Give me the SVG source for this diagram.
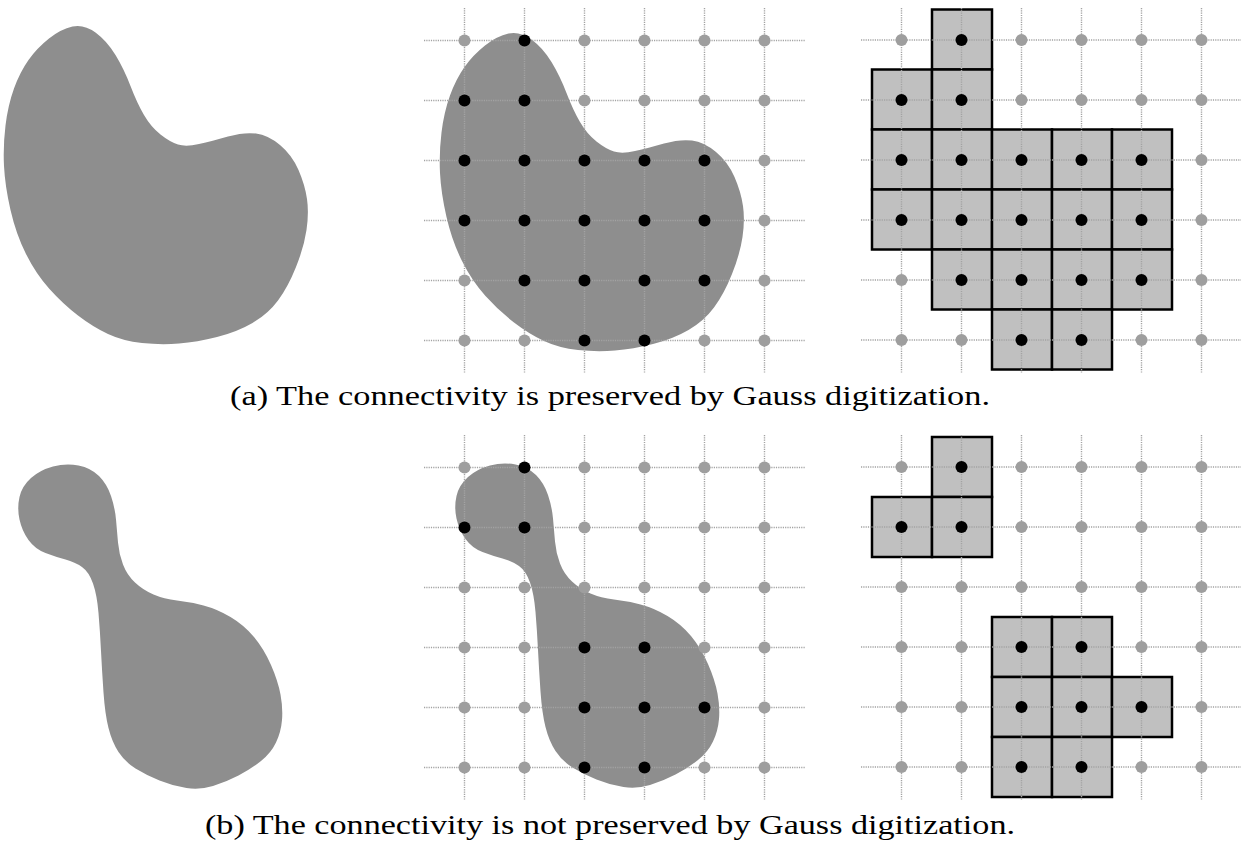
<svg xmlns="http://www.w3.org/2000/svg" width="1241" height="843" viewBox="0 0 1241 843">
<style>
.blob{fill:#8e8e8e;stroke:none}
.grid{fill:none;stroke:#a3a3a3;stroke-width:1.4;stroke-dasharray:1.2 1.1}
.g{fill:#9e9e9e}
.b{fill:#000}
.sq{fill:#c0c0c0;stroke:#000;stroke-width:2.5}
.cap{font-size:27px;fill:#000}
</style>
<defs>
<path id="blobA" d="M508.5 33.5 Q520 31 531.5 39.5 Q543 48 551.5 62 Q560 76 566.5 93 Q573 110 580 122 Q587 134 596.5 141.5 Q606 149 614 151.5 Q622 154 635 151 Q648 148 664 143.5 Q680 139 692 140.5 Q704 142 716 152 Q728 162 734.5 177 Q741 192 743 206 Q745 220 742.5 237 Q740 254 732 274 Q724 294 714 307.5 Q704 321 688.5 330 Q673 339 653 344 Q633 349 615 350.5 Q597 352 578 350 Q559 348 544 341 Q529 334 514 322.5 Q499 311 485.5 296 Q472 281 462 261 Q452 241 446.5 217 Q441 193 440 173 Q439 153 441.5 132.5 Q444 112 450 95.5 Q456 79 464.5 67 Q473 55 485 45.5 Q497 36 508.5 33.5 Z"/>
<path id="blobB" d="M490 465.5 Q503 462 515.5 464.5 Q528 467 536 475 Q544 483 548 495 Q552 507 553 518.5 Q554 530 555 541.5 Q556 553 560 563.5 Q564 574 572 581.5 Q580 589 590.5 593.5 Q601 598 614 599.5 Q627 601 640.5 604.5 Q654 608 667.5 616 Q681 624 691 636 Q701 648 708 664 Q715 680 717.5 693.5 Q720 707 719 719 Q718 731 713 741.5 Q708 752 698 760 Q688 768 675.5 774.5 Q663 781 650 785 Q637 789 623.5 787 Q610 785 596.5 779.5 Q583 774 572.5 767.5 Q562 761 555.5 751 Q549 741 545.5 727 Q542 713 540.5 691.5 Q539 670 538 650 Q537 630 535.5 612 Q534 594 530 582.5 Q526 571 519 566 Q512 561 502.5 558.5 Q493 556 482.5 552 Q472 548 465.5 539 Q459 530 456.5 518.5 Q454 507 456.5 496 Q459 485 468 477 Q477 469 490 465.5 Z"/>
</defs>

<g id="shape-a">
<use href="#blobA" class="blob" transform="translate(-436,-7)"/>
</g>

<g id="sampled-a">
<use href="#blobA" class="blob"/>
<path class="grid" d="M424 40.5H805M424 100.5H805M424 160.5H805M424 220.5H805M424 280.5H805M424 340.5H805M464.5 8V373M524.5 8V373M584.5 8V373M644.5 8V373M704.5 8V373M764.5 8V373"/>
<g class="g">
<circle cx="464.5" cy="40.5" r="6"/><circle cx="584.5" cy="40.5" r="6"/><circle cx="644.5" cy="40.5" r="6"/><circle cx="704.5" cy="40.5" r="6"/><circle cx="764.5" cy="40.5" r="6"/>
<circle cx="584.5" cy="100.5" r="6"/><circle cx="644.5" cy="100.5" r="6"/><circle cx="704.5" cy="100.5" r="6"/><circle cx="764.5" cy="100.5" r="6"/>
<circle cx="764.5" cy="160.5" r="6"/><circle cx="764.5" cy="220.5" r="6"/>
<circle cx="464.5" cy="280.5" r="6"/><circle cx="764.5" cy="280.5" r="6"/>
<circle cx="464.5" cy="340.5" r="6"/><circle cx="524.5" cy="340.5" r="6"/><circle cx="704.5" cy="340.5" r="6"/><circle cx="764.5" cy="340.5" r="6"/>
</g>
<g class="b">
<circle cx="524.5" cy="40.5" r="6"/>
<circle cx="464.5" cy="100.5" r="6"/><circle cx="524.5" cy="100.5" r="6"/>
<circle cx="464.5" cy="160.5" r="6"/><circle cx="524.5" cy="160.5" r="6"/><circle cx="584.5" cy="160.5" r="6"/><circle cx="644.5" cy="160.5" r="6"/><circle cx="704.5" cy="160.5" r="6"/>
<circle cx="464.5" cy="220.5" r="6"/><circle cx="524.5" cy="220.5" r="6"/><circle cx="584.5" cy="220.5" r="6"/><circle cx="644.5" cy="220.5" r="6"/><circle cx="704.5" cy="220.5" r="6"/>
<circle cx="524.5" cy="280.5" r="6"/><circle cx="584.5" cy="280.5" r="6"/><circle cx="644.5" cy="280.5" r="6"/><circle cx="704.5" cy="280.5" r="6"/>
<circle cx="584.5" cy="340.5" r="6"/><circle cx="644.5" cy="340.5" r="6"/>
</g>
</g>

<g id="digitized-a">
<g class="sq">
<rect x="932" y="9.5" width="60" height="60"/>
<rect x="872" y="69.5" width="60" height="60"/><rect x="932" y="69.5" width="60" height="60"/>
<rect x="872" y="129.5" width="60" height="60"/><rect x="932" y="129.5" width="60" height="60"/><rect x="992" y="129.5" width="60" height="60"/><rect x="1052" y="129.5" width="60" height="60"/><rect x="1112" y="129.5" width="60" height="60"/>
<rect x="872" y="189.5" width="60" height="60"/><rect x="932" y="189.5" width="60" height="60"/><rect x="992" y="189.5" width="60" height="60"/><rect x="1052" y="189.5" width="60" height="60"/><rect x="1112" y="189.5" width="60" height="60"/>
<rect x="932" y="249.5" width="60" height="60"/><rect x="992" y="249.5" width="60" height="60"/><rect x="1052" y="249.5" width="60" height="60"/><rect x="1112" y="249.5" width="60" height="60"/>
<rect x="992" y="309.5" width="60" height="60"/><rect x="1052" y="309.5" width="60" height="60"/>
</g>
<path class="grid" d="M861 40H1241M861 100H1241M861 160H1241M861 220H1241M861 280H1241M861 340H1241M901.5 8V373M961.5 8V373M1021.5 8V373M1081.5 8V373M1141.5 8V373M1201.5 8V373"/>
<g class="g">
<circle cx="901.5" cy="40" r="6"/><circle cx="1021.5" cy="40" r="6"/><circle cx="1081.5" cy="40" r="6"/><circle cx="1141.5" cy="40" r="6"/><circle cx="1201.5" cy="40" r="6"/>
<circle cx="1021.5" cy="100" r="6"/><circle cx="1081.5" cy="100" r="6"/><circle cx="1141.5" cy="100" r="6"/><circle cx="1201.5" cy="100" r="6"/>
<circle cx="1201.5" cy="160" r="6"/><circle cx="1201.5" cy="220" r="6"/>
<circle cx="901.5" cy="280" r="6"/><circle cx="1201.5" cy="280" r="6"/>
<circle cx="901.5" cy="340" r="6"/><circle cx="961.5" cy="340" r="6"/><circle cx="1141.5" cy="340" r="6"/><circle cx="1201.5" cy="340" r="6"/>
</g>
<g class="b">
<circle cx="961.5" cy="40" r="6"/>
<circle cx="901.5" cy="100" r="6"/><circle cx="961.5" cy="100" r="6"/>
<circle cx="901.5" cy="160" r="6"/><circle cx="961.5" cy="160" r="6"/><circle cx="1021.5" cy="160" r="6"/><circle cx="1081.5" cy="160" r="6"/><circle cx="1141.5" cy="160" r="6"/>
<circle cx="901.5" cy="220" r="6"/><circle cx="961.5" cy="220" r="6"/><circle cx="1021.5" cy="220" r="6"/><circle cx="1081.5" cy="220" r="6"/><circle cx="1141.5" cy="220" r="6"/>
<circle cx="961.5" cy="280" r="6"/><circle cx="1021.5" cy="280" r="6"/><circle cx="1081.5" cy="280" r="6"/><circle cx="1141.5" cy="280" r="6"/>
<circle cx="1021.5" cy="340" r="6"/><circle cx="1081.5" cy="340" r="6"/>
</g>
</g>

<text id="caption-a" class="cap" font-family="'Liberation Serif', 'DejaVu Serif', serif" x="610" y="405" text-anchor="middle" textLength="760" lengthAdjust="spacingAndGlyphs">(a) The connectivity is preserved by Gauss digitization.</text>

<g id="shape-b">
<use href="#blobB" class="blob" transform="translate(-437,1)"/>
</g>

<g id="sampled-b">
<use href="#blobB" class="blob"/>
<path class="grid" d="M424 467.5H805M424 527.5H805M424 587.5H805M424 647.5H805M424 707.5H805M424 767.5H805M464.5 435V800M524.5 435V800M584.5 435V800M644.5 435V800M704.5 435V800M764.5 435V800"/>
<g class="g">
<circle cx="464.5" cy="467.5" r="6"/><circle cx="584.5" cy="467.5" r="6"/><circle cx="644.5" cy="467.5" r="6"/><circle cx="704.5" cy="467.5" r="6"/><circle cx="764.5" cy="467.5" r="6"/>
<circle cx="584.5" cy="527.5" r="6"/><circle cx="644.5" cy="527.5" r="6"/><circle cx="704.5" cy="527.5" r="6"/><circle cx="764.5" cy="527.5" r="6"/>
<circle cx="464.5" cy="587.5" r="6"/><circle cx="524.5" cy="587.5" r="6"/><circle cx="584.5" cy="587.5" r="6"/><circle cx="644.5" cy="587.5" r="6"/><circle cx="704.5" cy="587.5" r="6"/><circle cx="764.5" cy="587.5" r="6"/>
<circle cx="464.5" cy="647.5" r="6"/><circle cx="524.5" cy="647.5" r="6"/><circle cx="704.5" cy="647.5" r="6"/><circle cx="764.5" cy="647.5" r="6"/>
<circle cx="464.5" cy="707.5" r="6"/><circle cx="524.5" cy="707.5" r="6"/><circle cx="764.5" cy="707.5" r="6"/>
<circle cx="464.5" cy="767.5" r="6"/><circle cx="524.5" cy="767.5" r="6"/><circle cx="704.5" cy="767.5" r="6"/><circle cx="764.5" cy="767.5" r="6"/>
</g>
<g class="b">
<circle cx="524.5" cy="467.5" r="6"/>
<circle cx="464.5" cy="527.5" r="6"/><circle cx="524.5" cy="527.5" r="6"/>
<circle cx="584.5" cy="647.5" r="6"/><circle cx="644.5" cy="647.5" r="6"/>
<circle cx="584.5" cy="707.5" r="6"/><circle cx="644.5" cy="707.5" r="6"/><circle cx="704.5" cy="707.5" r="6"/>
<circle cx="584.5" cy="767.5" r="6"/><circle cx="644.5" cy="767.5" r="6"/>
</g>
</g>

<g id="digitized-b">
<g class="sq">
<rect x="932" y="437" width="60" height="60"/>
<rect x="872" y="497" width="60" height="60"/><rect x="932" y="497" width="60" height="60"/>
<rect x="992" y="617" width="60" height="60"/><rect x="1052" y="617" width="60" height="60"/>
<rect x="992" y="677" width="60" height="60"/><rect x="1052" y="677" width="60" height="60"/><rect x="1112" y="677" width="60" height="60"/>
<rect x="992" y="737" width="60" height="60"/><rect x="1052" y="737" width="60" height="60"/>
</g>
<path class="grid" d="M861 467H1241M861 527H1241M861 587H1241M861 647H1241M861 707H1241M861 767H1241M901.5 435V800M961.5 435V800M1021.5 435V800M1081.5 435V800M1141.5 435V800M1201.5 435V800"/>
<g class="g">
<circle cx="901.5" cy="467" r="6"/><circle cx="1021.5" cy="467" r="6"/><circle cx="1081.5" cy="467" r="6"/><circle cx="1141.5" cy="467" r="6"/><circle cx="1201.5" cy="467" r="6"/>
<circle cx="1021.5" cy="527" r="6"/><circle cx="1081.5" cy="527" r="6"/><circle cx="1141.5" cy="527" r="6"/><circle cx="1201.5" cy="527" r="6"/>
<circle cx="901.5" cy="587" r="6"/><circle cx="961.5" cy="587" r="6"/><circle cx="1021.5" cy="587" r="6"/><circle cx="1081.5" cy="587" r="6"/><circle cx="1141.5" cy="587" r="6"/><circle cx="1201.5" cy="587" r="6"/>
<circle cx="901.5" cy="647" r="6"/><circle cx="961.5" cy="647" r="6"/><circle cx="1141.5" cy="647" r="6"/><circle cx="1201.5" cy="647" r="6"/>
<circle cx="901.5" cy="707" r="6"/><circle cx="961.5" cy="707" r="6"/><circle cx="1201.5" cy="707" r="6"/>
<circle cx="901.5" cy="767" r="6"/><circle cx="961.5" cy="767" r="6"/><circle cx="1141.5" cy="767" r="6"/><circle cx="1201.5" cy="767" r="6"/>
</g>
<g class="b">
<circle cx="961.5" cy="467" r="6"/>
<circle cx="901.5" cy="527" r="6"/><circle cx="961.5" cy="527" r="6"/>
<circle cx="1021.5" cy="647" r="6"/><circle cx="1081.5" cy="647" r="6"/>
<circle cx="1021.5" cy="707" r="6"/><circle cx="1081.5" cy="707" r="6"/><circle cx="1141.5" cy="707" r="6"/>
<circle cx="1021.5" cy="767" r="6"/><circle cx="1081.5" cy="767" r="6"/>
</g>
</g>

<text id="caption-b" class="cap" font-family="'Liberation Serif', 'DejaVu Serif', serif" x="610" y="834" text-anchor="middle" textLength="810" lengthAdjust="spacingAndGlyphs">(b) The connectivity is not preserved by Gauss digitization.</text>
</svg>
